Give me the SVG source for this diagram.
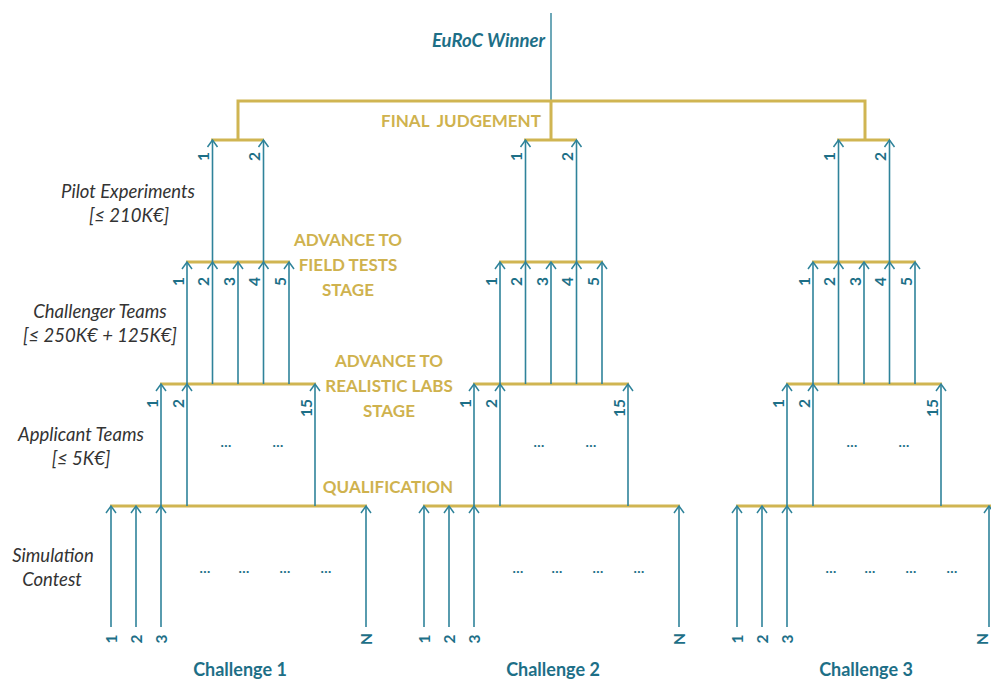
<svg xmlns="http://www.w3.org/2000/svg" width="991" height="680" viewBox="0 0 991 680">
<style>
.gold{stroke:#D0B552;stroke-width:3;fill:none}
.teal{stroke:#2F839A;stroke-width:1.6;fill:none;marker-end:url(#ah)}
.wline{stroke:#2F839A;stroke-width:1.4;fill:none}
.num{font-family:Lato,"Liberation Sans",sans-serif;font-weight:700;font-size:15.5px;fill:#1D6F87;dominant-baseline:central}
.numt{text-anchor:end}
.numb{text-anchor:middle}
.stage{font-family:Lato,"Liberation Sans",sans-serif;font-weight:700;font-size:17px;fill:#CFB24E;text-anchor:middle}
.side{font-family:Lato,"Liberation Sans",sans-serif;font-style:italic;font-size:18.5px;fill:#333333;text-anchor:middle}
.dots{font-family:Lato,"Liberation Sans",sans-serif;font-weight:700;font-size:14px;fill:#1D6F87;text-anchor:middle}
.chal{font-family:Lato,"Liberation Sans",sans-serif;font-weight:700;font-size:18px;fill:#1D6F87;text-anchor:middle}
.win{font-family:Lato,"Liberation Sans",sans-serif;font-weight:700;font-style:italic;font-size:18.5px;fill:#1D6F87;text-anchor:end}
</style>
<defs>
<marker id="ah" markerUnits="userSpaceOnUse" viewBox="-8 -6 10 12" markerWidth="10" markerHeight="12" refX="0" refY="0" orient="auto" overflow="visible">
<path d="M-7,-5 L0,0 L-7,5" fill="none" stroke="#2F839A" stroke-width="1.5"/>
</marker>
</defs>
<rect width="991" height="680" fill="#ffffff"/>

<g id="connectors">
<path class="wline" d="M551,13 V101"/>
<path class="gold" d="M238,140 V101 H865 V140 M551,101 V140"/>
<g id="tree1-conn" transform="translate(238,0)">
<path class="gold" d="M-27,140 H26 M-52,262 H52 M-78,384 H78 M-128,506 H129"/>
<path class="teal" d="M-25.5,262 V140"/><path class="teal" d="M25.5,262 V140"/>
<path class="teal" d="M-51,384 V262"/><path class="teal" d="M-25.5,384 V262"/><path class="teal" d="M0,384 V262"/><path class="teal" d="M25.5,384 V262"/><path class="teal" d="M51,384 V262"/>
<path class="teal" d="M-77,506 V384"/><path class="teal" d="M-51,506 V384"/><path class="teal" d="M77,506 V384"/>
<path class="teal" d="M-127,627 V506"/><path class="teal" d="M-102,627 V506"/><path class="teal" d="M-77,627 V506"/><path class="teal" d="M128,627 V506"/>
</g>
<g id="tree2-conn" transform="translate(551,0)">
<path class="gold" d="M-27,140 H26 M-52,262 H52 M-78,384 H78 M-128,506 H129"/>
<path class="teal" d="M-25.5,262 V140"/><path class="teal" d="M25.5,262 V140"/>
<path class="teal" d="M-51,384 V262"/><path class="teal" d="M-25.5,384 V262"/><path class="teal" d="M0,384 V262"/><path class="teal" d="M25.5,384 V262"/><path class="teal" d="M51,384 V262"/>
<path class="teal" d="M-77,506 V384"/><path class="teal" d="M-51,506 V384"/><path class="teal" d="M77,506 V384"/>
<path class="teal" d="M-127,627 V506"/><path class="teal" d="M-102,627 V506"/><path class="teal" d="M-77,627 V506"/><path class="teal" d="M128,627 V506"/>
</g>
<g id="tree3-conn" transform="translate(864,0)">
<path class="gold" d="M-27,140 H26 M-52,262 H52 M-78,384 H78 M-128,506 H129"/>
<path class="teal" d="M-25.5,262 V140"/><path class="teal" d="M25.5,262 V140"/>
<path class="teal" d="M-51,384 V262"/><path class="teal" d="M-25.5,384 V262"/><path class="teal" d="M0,384 V262"/><path class="teal" d="M25.5,384 V262"/><path class="teal" d="M51,384 V262"/>
<path class="teal" d="M-77,506 V384"/><path class="teal" d="M-51,506 V384"/><path class="teal" d="M77,506 V384"/>
<path class="teal" d="M-127,627 V506"/><path class="teal" d="M-102,627 V506"/><path class="teal" d="M-77,627 V506"/><path class="teal" d="M125,627 V506"/>
</g>
</g>

<g id="winner"><text class="win" x="545" y="47">EuRoC Winner</text></g>
<g id="final-judgement"><text class="stage" x="461" y="127" xml:space="preserve">FINAL  JUDGEMENT</text></g>
<g id="advance-field"><text class="stage" x="348" y="246">ADVANCE TO</text><text class="stage" x="348" y="271">FIELD TESTS</text><text class="stage" x="348" y="296">STAGE</text></g>
<g id="advance-labs"><text class="stage" x="389" y="367">ADVANCE TO</text><text class="stage" x="389" y="392">REALISTIC LABS</text><text class="stage" x="389" y="417">STAGE</text></g>
<g id="qualification"><text class="stage" x="388" y="493">QUALIFICATION</text></g>

<g id="pilot"><text class="side" x="128" y="198">Pilot Experiments</text><text class="side" x="129" y="222">[≤ 210K€]</text></g>
<g id="challenger"><text class="side" x="100" y="318">Challenger Teams</text><text class="side" x="100" y="342">[≤ 250K€ + 125K€]</text></g>
<g id="applicant"><text class="side" x="81" y="441">Applicant Teams</text><text class="side" x="81" y="465">[≤ 5K€]</text></g>
<g id="simulation"><text class="side" x="53" y="562">Simulation</text><text class="side" x="52" y="586">Contest</text></g>

<g id="tree1" transform="translate(238,0)">
<text class="num numt" transform="translate(-35,152) rotate(-90)">1</text>
<text class="num numt" transform="translate(16,152) rotate(-90)">2</text>
<text class="num numt" transform="translate(-60.5,277) rotate(-90)">1</text>
<text class="num numt" transform="translate(-35,277) rotate(-90)">2</text>
<text class="num numt" transform="translate(-9.5,277) rotate(-90)">3</text>
<text class="num numt" transform="translate(16,277) rotate(-90)">4</text>
<text class="num numt" transform="translate(41.5,277) rotate(-90)">5</text>
<text class="num numt" transform="translate(-86.5,399) rotate(-90)">1</text>
<text class="num numt" transform="translate(-60.5,399) rotate(-90)">2</text>
<text class="num numt" transform="translate(67.5,399) rotate(-90)">15</text>
<text class="dots" x="-12" y="447">…</text><text class="dots" x="40" y="447">…</text>
<text class="dots" x="-33" y="573">…</text><text class="dots" x="6" y="573">…</text><text class="dots" x="47" y="573">…</text><text class="dots" x="88" y="573">…</text>
<text class="num numb" transform="translate(-127,639) rotate(-90)">1</text>
<text class="num numb" transform="translate(-102,639) rotate(-90)">2</text>
<text class="num numb" transform="translate(-77,639) rotate(-90)">3</text>
<text class="num numb" transform="translate(128,639) rotate(-90)">N</text>
<text class="chal" x="2" y="676">Challenge 1</text>
</g>
<g id="tree2" transform="translate(551,0)">
<text class="num numt" transform="translate(-35,152) rotate(-90)">1</text>
<text class="num numt" transform="translate(16,152) rotate(-90)">2</text>
<text class="num numt" transform="translate(-60.5,277) rotate(-90)">1</text>
<text class="num numt" transform="translate(-35,277) rotate(-90)">2</text>
<text class="num numt" transform="translate(-9.5,277) rotate(-90)">3</text>
<text class="num numt" transform="translate(16,277) rotate(-90)">4</text>
<text class="num numt" transform="translate(41.5,277) rotate(-90)">5</text>
<text class="num numt" transform="translate(-86.5,399) rotate(-90)">1</text>
<text class="num numt" transform="translate(-60.5,399) rotate(-90)">2</text>
<text class="num numt" transform="translate(67.5,399) rotate(-90)">15</text>
<text class="dots" x="-12" y="447">…</text><text class="dots" x="40" y="447">…</text>
<text class="dots" x="-33" y="573">…</text><text class="dots" x="6" y="573">…</text><text class="dots" x="47" y="573">…</text><text class="dots" x="88" y="573">…</text>
<text class="num numb" transform="translate(-127,639) rotate(-90)">1</text>
<text class="num numb" transform="translate(-102,639) rotate(-90)">2</text>
<text class="num numb" transform="translate(-77,639) rotate(-90)">3</text>
<text class="num numb" transform="translate(128,639) rotate(-90)">N</text>
<text class="chal" x="2" y="676">Challenge 2</text>
</g>
<g id="tree3" transform="translate(864,0)">
<text class="num numt" transform="translate(-35,152) rotate(-90)">1</text>
<text class="num numt" transform="translate(16,152) rotate(-90)">2</text>
<text class="num numt" transform="translate(-60.5,277) rotate(-90)">1</text>
<text class="num numt" transform="translate(-35,277) rotate(-90)">2</text>
<text class="num numt" transform="translate(-9.5,277) rotate(-90)">3</text>
<text class="num numt" transform="translate(16,277) rotate(-90)">4</text>
<text class="num numt" transform="translate(41.5,277) rotate(-90)">5</text>
<text class="num numt" transform="translate(-86.5,399) rotate(-90)">1</text>
<text class="num numt" transform="translate(-60.5,399) rotate(-90)">2</text>
<text class="num numt" transform="translate(67.5,399) rotate(-90)">15</text>
<text class="dots" x="-12" y="447">…</text><text class="dots" x="40" y="447">…</text>
<text class="dots" x="-33" y="573">…</text><text class="dots" x="6" y="573">…</text><text class="dots" x="47" y="573">…</text><text class="dots" x="88" y="573">…</text>
<text class="num numb" transform="translate(-127,639) rotate(-90)">1</text>
<text class="num numb" transform="translate(-102,639) rotate(-90)">2</text>
<text class="num numb" transform="translate(-77,639) rotate(-90)">3</text>
<text class="num numb" transform="translate(118,639) rotate(-90)">N</text>
<text class="chal" x="2" y="676">Challenge 3</text>
</g>
</svg>
